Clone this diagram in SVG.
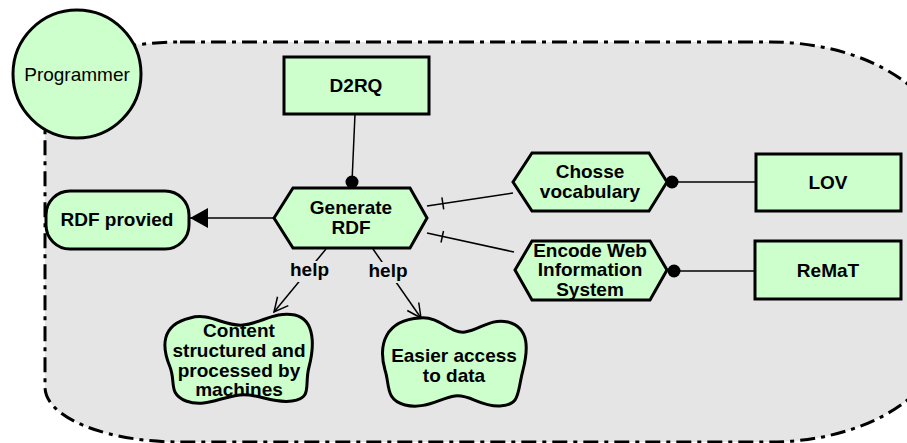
<svg xmlns="http://www.w3.org/2000/svg" width="907" height="443" viewBox="0 0 907 443">
<style>
.node{fill:#ccffcc;stroke:#000;stroke-width:3}
.t{font-family:"Liberation Sans",Arial,sans-serif;font-size:19px;font-weight:bold;text-anchor:middle;fill:#000}
.tn{font-family:"Liberation Sans",Arial,sans-serif;font-size:19px;text-anchor:middle;fill:#000}
.ln{fill:none;stroke:#000;stroke-width:1.5}
.dot{fill:#000}
.lbg{fill:#e5e5e5}
</style>
<defs>
<marker id="filled" markerWidth="20" markerHeight="22" refX="18" refY="10" orient="auto" markerUnits="userSpaceOnUse">
<path d="M0,0 L18,10 L0,20 Z" fill="#000"/>
</marker>
<marker id="open" markerWidth="20" markerHeight="20" refX="15" refY="8" orient="auto" markerUnits="userSpaceOnUse">
<path d="M1,1 L15,8 L1,15" fill="none" stroke="#000" stroke-width="1.5"/>
</marker>
</defs>
<g id="boundary">
<path d="M180,42 L770,42 A175,110 0 0 1 945,152 L945,332 A175,110 0 0 1 770,442 L180,442 A135,55 0 0 1 45,387 L45,97 A135,55 0 0 1 180,42 Z" fill="#e5e5e5" stroke="#000" stroke-width="3" stroke-dasharray="15 6 4 6"/>
</g>
<g id="connectors">
<line class="ln" x1="355" y1="114" x2="352" y2="182"/>
<circle class="dot" cx="352" cy="182" r="6.5"/>
<line class="ln" x1="274" y1="218" x2="190" y2="218" marker-end="url(#filled)"/>
<line class="ln" x1="427" y1="206" x2="513" y2="193"/>
<line class="ln" x1="441.9" y1="197.3" x2="443.7" y2="209.3"/>
<line class="ln" x1="427" y1="233" x2="514" y2="252"/>
<line class="ln" x1="443.5" y1="231" x2="441" y2="242.5"/>
<line class="ln" x1="672" y1="182" x2="756" y2="182"/>
<circle class="dot" cx="672" cy="182" r="6.5"/>
<line class="ln" x1="674" y1="271" x2="755" y2="271"/>
<circle class="dot" cx="674" cy="271" r="6.5"/>
<line class="ln" x1="326" y1="249" x2="274" y2="312" marker-end="url(#open)"/>
<rect class="lbg" x="290" y="261" width="40" height="21"/>
<text class="t" x="309.5" y="276">help</text>
<line class="ln" x1="373" y1="249" x2="421" y2="318" marker-end="url(#open)"/>
<rect class="lbg" x="368" y="262" width="41" height="21"/>
<text class="t" x="388" y="277">help</text>
</g>
<g id="programmer">
<circle class="node" cx="77" cy="74" r="64"/>
<text class="tn" x="77" y="81">Programmer</text>
</g>
<g id="d2rq">
<rect class="node" x="284" y="57" width="145" height="57"/>
<text class="t" x="356" y="92">D2RQ</text>
</g>
<g id="generate-rdf">
<polygon class="node" points="274,218 293,188 410,188 427,218 410,248 293,248"/>
<text class="t" x="351" y="214">Generate</text>
<text class="t" x="351" y="233.5">RDF</text>
</g>
<g id="rdf-provied">
<rect class="node" x="46" y="191" width="143" height="58" rx="24" ry="24"/>
<text class="t" x="117" y="226">RDF provied</text>
</g>
<g id="chosse-vocabulary">
<polygon class="node" points="513,182 532,153 649,153 667,182 649,211 532,211"/>
<text class="t" x="590" y="178">Chosse</text>
<text class="t" x="590" y="197.5">vocabulary</text>
</g>
<g id="lov">
<rect class="node" x="756" y="154" width="145" height="57"/>
<text class="t" x="828" y="189">LOV</text>
</g>
<g id="encode-web">
<polygon class="node" points="515,270 532,241 650,241 667,270 650,300 532,300"/>
<text class="t" x="590" y="257">Encode Web</text>
<text class="t" x="590" y="276">Information</text>
<text class="t" x="590" y="295.5">System</text>
</g>
<g id="remat">
<rect class="node" x="755" y="241" width="146" height="58"/>
<text class="t" x="828" y="277">ReMaT</text>
</g>
<g id="content-structured">
<path class="node" d="M190,318 C210,312 225,327 243,325 C262,323 275,311 295,315 C316,320 314,348 309,367 C304,386 313,398 292,401 C272,404 258,393 240,395 C220,397 205,408 186,401 C168,394 176,382 170,367 C162,348 160,325 190,318 Z"/>
<text class="t" x="239" y="337">Content</text>
<text class="t" x="239" y="357">structured and</text>
<text class="t" x="239" y="377">processed by</text>
<text class="t" x="239" y="396">machines</text>
</g>
<g id="easier-access">
<path class="node" d="M420,318 C440,316 450,334 465,332 C480,330 490,318 508,322 C530,328 528,350 523,370 C517,392 521,405 500,406 C480,407 470,394 455,396 C440,398 425,410 405,405 C385,400 390,385 385,370 C378,345 385,320 420,318 Z"/>
<text class="t" x="454" y="362">Easier access</text>
<text class="t" x="454" y="382">to data</text>
</g>
</svg>
